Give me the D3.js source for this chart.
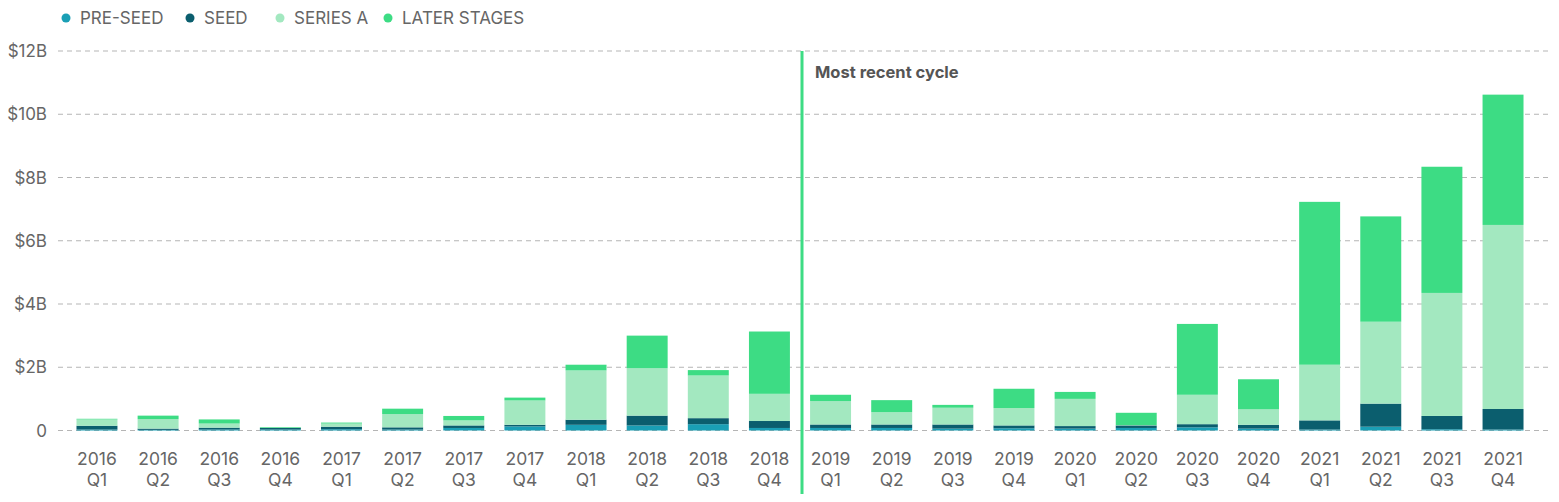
<!DOCTYPE html>
<html><head><meta charset="utf-8">
<script src="https://cdn.jsdelivr.net/npm/d3@7"></script>
<style>body{margin:0;background:#fff;} svg{display:block;font-family:Inter,"Liberation Sans",Arial,sans-serif;}</style>
</head><body><svg id="c" width="1559" height="502"></svg>
<script>
const years = ["2016","2016","2016","2016","2017","2017","2017","2017","2018","2018","2018","2018","2019","2019","2019","2019","2020","2020","2020","2020","2021","2021","2021","2021"];
const quarters = ["Q1","Q2","Q3","Q4","Q1","Q2","Q3","Q4","Q1","Q2","Q3","Q4","Q1","Q2","Q3","Q4","Q1","Q2","Q3","Q4","Q1","Q2","Q3","Q4"];
const preSeed = [0.03,0.02,0.03,0.03,0.04,0.03,0.08,0.13,0.18,0.16,0.20,0.08,0.08,0.08,0.06,0.07,0.06,0.08,0.10,0.06,0.03,0.12,0.04,0.03];
const seed    = [0.12,0.04,0.06,0.05,0.08,0.07,0.08,0.05,0.16,0.31,0.19,0.22,0.11,0.11,0.13,0.09,0.08,0.08,0.10,0.12,0.29,0.73,0.42,0.65];
const seriesA = [0.20,0.30,0.13,0.01,0.10,0.42,0.16,0.77,1.56,1.50,1.35,0.86,0.74,0.39,0.53,0.55,0.86,0.01,0.93,0.49,1.76,2.59,3.89,5.82];
const later   = [0.02,0.11,0.13,0.02,0.03,0.17,0.14,0.09,0.18,1.03,0.17,1.97,0.20,0.38,0.09,0.61,0.22,0.39,2.24,0.95,5.15,3.33,3.99,4.12];
const seriesNames = ["PRE-SEED","SEED","SERIES A","LATER STAGES"];
const colors = ["#1a9fb5","#0b5e6e","#a3e8c0","#3ddc84"];
const yTicks = [0,2,4,6,8,10,12];
const yTickLabels = ["0","$2B","$4B","$6B","$8B","$10B","$12B"];
const annotation = "Most recent cycle";

const svg = d3.select("#c");
const labels = years.map((y,i)=>y+" "+quarters[i]);
const rows = labels.map((l,i)=>({key:l,"PRE-SEED":preSeed[i],"SEED":seed[i],"SERIES A":seriesA[i],"LATER STAGES":later[i]}));
const stack = d3.stack().keys(seriesNames)(rows);

const x = d3.scaleBand().domain(labels).range([66.4,1533.6]).paddingInner(0.33).paddingOuter(0.165);
const y = d3.scaleLinear().domain([0,12]).range([430.5,51]);

// gridlines
svg.append("g").selectAll("line").data(yTicks).join("line")
  .attr("x1",58).attr("x2",1548)
  .attr("y1",d=>y(d)).attr("y2",d=>y(d))
  .attr("stroke","#b5b5b5").attr("stroke-width",1).attr("stroke-dasharray","5,4");

// y labels
svg.append("g").selectAll("text").data(yTicks).join("text")
  .attr("x",47).attr("y",d=>y(d)+6).attr("text-anchor","end")
  .attr("font-size",17).attr("fill","#666").text((d,i)=>yTickLabels[i]);

// bars
svg.append("g").selectAll("g").data(stack).join("g")
  .attr("fill",(d,i)=>colors[i])
  .selectAll("rect").data(d=>d).join("rect")
  .attr("x",d=>x(d.data.key)).attr("width",x.bandwidth())
  .attr("y",d=>y(d[1])).attr("height",d=>Math.max(0,y(d[0])-y(d[1])));

// x labels
const xl = svg.append("g").selectAll("text").data(labels).join("text")
  .attr("text-anchor","middle").attr("font-size",17.5).attr("fill","#666")
  .attr("transform",d=>`translate(${x(d)+x.bandwidth()/2},0)`);
xl.append("tspan").attr("x",0).attr("y",465).text((d,i)=>years[i]);
xl.append("tspan").attr("x",0).attr("y",486).text((d,i)=>quarters[i]);

// vertical line
const vx = (x(labels[11])+x.bandwidth() + x(labels[12]))/2 + 2;
svg.append("line").attr("x1",vx).attr("x2",vx).attr("y1",51).attr("y2",494)
  .attr("stroke","#3ddc84").attr("stroke-width",3);
svg.append("text").attr("x",vx+13).attr("y",78).attr("font-size",16.5).attr("font-weight","bold")
  .attr("fill","#555").text(annotation);

// legend
const legX = [66,190,280,388];
const lg = svg.append("g").selectAll("g").data(seriesNames).join("g")
  .attr("transform",(d,i)=>`translate(${legX[i]},18)`);
lg.append("circle").attr("r",4.5).attr("fill",(d,i)=>colors[i]);
lg.append("text").attr("x",14).attr("y",6).attr("font-size",17).attr("fill","#666").text(d=>d);
</script></body></html>
